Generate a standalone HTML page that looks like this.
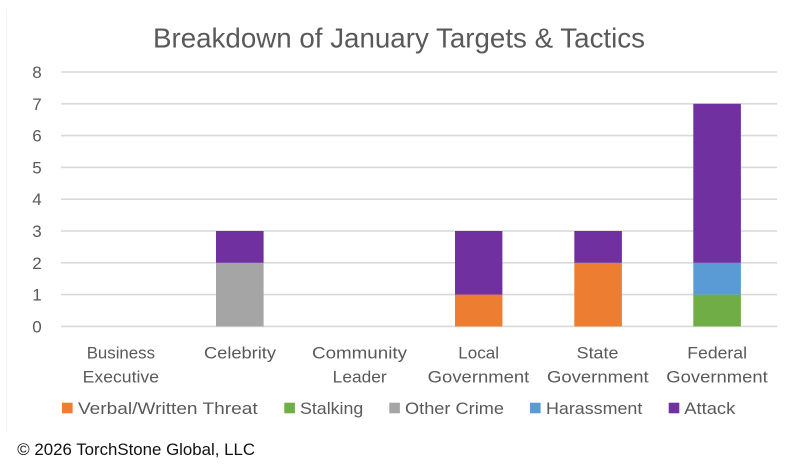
<!DOCTYPE html>
<html><head><meta charset="utf-8"><style>
html,body{margin:0;padding:0;background:#fff;}
svg{display:block;}
text{font-family:"Liberation Sans",sans-serif;}
</style></head><body>
<svg width="800" height="465" viewBox="0 0 800 465" xmlns="http://www.w3.org/2000/svg">
<rect width="800" height="465" fill="#fff"/>
<line x1="6.5" y1="10" x2="6.5" y2="432" stroke="#f2f2f2" stroke-width="1"/>
<text x="153" y="47.3" font-size="28" fill="#595959" textLength="492" lengthAdjust="spacingAndGlyphs">Breakdown of January Targets &amp; Tactics</text>
<g stroke="#d9d9d9" stroke-width="1.6">
<line x1="61" y1="72" x2="777" y2="72"/>
<line x1="61" y1="103.8" x2="777" y2="103.8"/>
<line x1="61" y1="135.6" x2="777" y2="135.6"/>
<line x1="61" y1="167.4" x2="777" y2="167.4"/>
<line x1="61" y1="199.2" x2="777" y2="199.2"/>
<line x1="61" y1="231" x2="777" y2="231"/>
<line x1="61" y1="262.8" x2="777" y2="262.8"/>
<line x1="61" y1="294.6" x2="777" y2="294.6"/>
<line x1="61" y1="326.4" x2="777" y2="326.4"/>
</g>
<g font-size="17" fill="#595959" text-anchor="middle">
<text x="37" y="78">8</text>
<text x="37" y="109.8">7</text>
<text x="37" y="141.6">6</text>
<text x="37" y="173.4">5</text>
<text x="37" y="205.2">4</text>
<text x="37" y="237">3</text>
<text x="37" y="268.8">2</text>
<text x="37" y="300.6">1</text>
<text x="37" y="332.4">0</text>
</g>
<!-- Celebrity -->
<rect x="216" y="262.8" width="47.6" height="63.6" fill="#A5A5A5"/>
<rect x="216" y="231" width="47.6" height="31.8" fill="#7030A0"/>
<!-- Local -->
<rect x="455" y="294.6" width="47.4" height="31.8" fill="#ED7D31"/>
<rect x="455" y="231" width="47.4" height="63.6" fill="#7030A0"/>
<!-- State -->
<rect x="574.3" y="262.8" width="47.6" height="63.6" fill="#ED7D31"/>
<rect x="574.3" y="231" width="47.6" height="31.8" fill="#7030A0"/>
<!-- Federal -->
<rect x="693.3" y="294.6" width="47.6" height="31.8" fill="#70AD47"/>
<rect x="693.3" y="262.8" width="47.6" height="31.8" fill="#5B9BD5"/>
<rect x="693.3" y="103.8" width="47.6" height="159" fill="#7030A0"/>
<g font-size="17" fill="#595959">
<text x="86.7" y="358.5" textLength="68.3" lengthAdjust="spacingAndGlyphs">Business</text>
<text x="82.7" y="382.7" textLength="76.3" lengthAdjust="spacingAndGlyphs">Executive</text>
<text x="204" y="358.5" textLength="72" lengthAdjust="spacingAndGlyphs">Celebrity</text>
<text x="312" y="358.5" textLength="95" lengthAdjust="spacingAndGlyphs">Community</text>
<text x="332.7" y="382.7" textLength="54" lengthAdjust="spacingAndGlyphs">Leader</text>
<text x="458.3" y="358.5" textLength="40.7" lengthAdjust="spacingAndGlyphs">Local</text>
<text x="427.7" y="382.7" textLength="101.6" lengthAdjust="spacingAndGlyphs">Government</text>
<text x="576.7" y="358.5" textLength="41.7" lengthAdjust="spacingAndGlyphs">State</text>
<text x="547" y="382.7" textLength="101.7" lengthAdjust="spacingAndGlyphs">Government</text>
<text x="687.3" y="358.5" textLength="59.7" lengthAdjust="spacingAndGlyphs">Federal</text>
<text x="666.3" y="382.7" textLength="101.4" lengthAdjust="spacingAndGlyphs">Government</text>
</g>
<rect x="62" y="402.7" width="10.6" height="10.6" fill="#ED7D31"/>
<rect x="284.3" y="402.7" width="10.6" height="10.6" fill="#70AD47"/>
<rect x="389.3" y="402.7" width="10.6" height="10.6" fill="#A5A5A5"/>
<rect x="530" y="402.7" width="10.6" height="10.6" fill="#5B9BD5"/>
<rect x="668.7" y="402.7" width="10.6" height="10.6" fill="#7030A0"/>
<g font-size="17" fill="#595959">
<text x="78" y="413.8" textLength="179.7" lengthAdjust="spacingAndGlyphs">Verbal/Written Threat</text>
<text x="300" y="413.8" textLength="63.3" lengthAdjust="spacingAndGlyphs">Stalking</text>
<text x="405" y="413.8" textLength="99" lengthAdjust="spacingAndGlyphs">Other Crime</text>
<text x="546" y="413.8" textLength="96.3" lengthAdjust="spacingAndGlyphs">Harassment</text>
<text x="684.3" y="413.8" textLength="51" lengthAdjust="spacingAndGlyphs">Attack</text>
</g>
<text x="17.3" y="455" font-size="17" fill="#111" textLength="237.7" lengthAdjust="spacingAndGlyphs">© 2026 TorchStone Global, LLC</text>
</svg>
</body></html>
